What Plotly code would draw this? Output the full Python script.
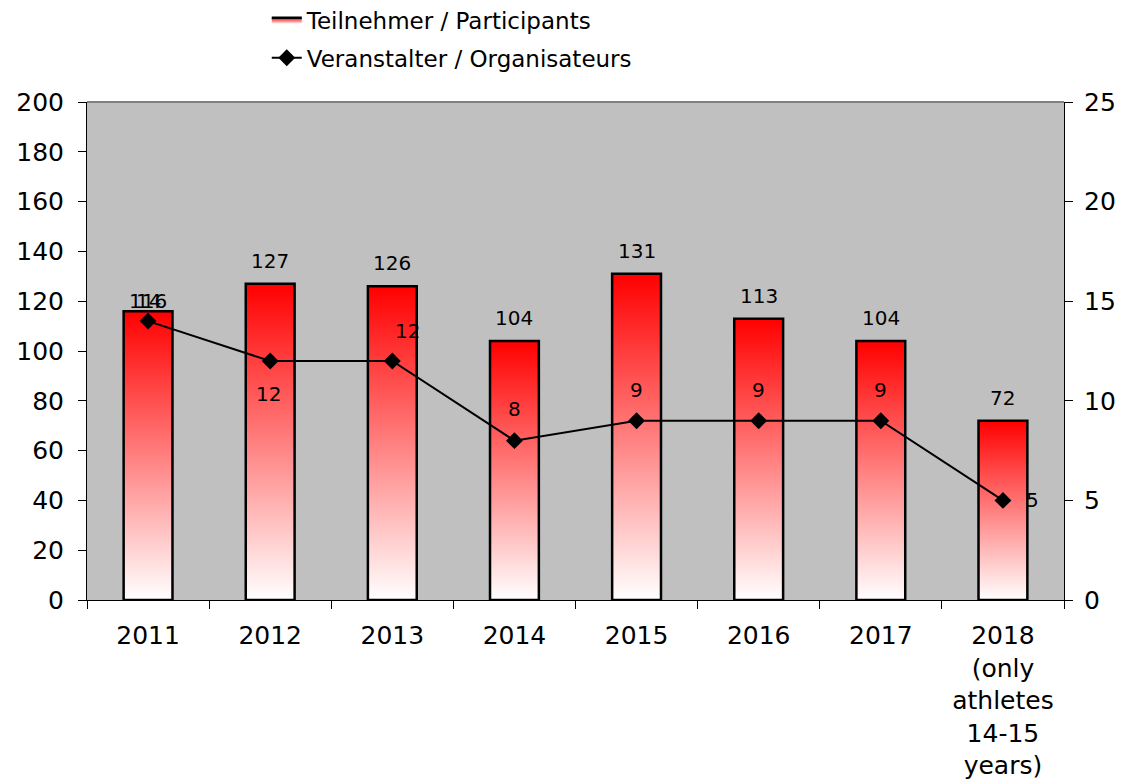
import plotly.graph_objects as go

years = ["2011", "2012", "2013", "2014", "2015", "2016", "2017",
         "2018<br>(only<br>athletes<br>14-15<br>years)"]
participants = [116, 127, 126, 104, 131, 113, 104, 72]
organisers = [14, 12, 12, 8, 9, 9, 9, 5]

# label offsets in pixels (style only)
bar_label_shift = [10, 23, 23, 23, 23, 23, 23, 23]
org_label_shift = [(0, 20), (-2, -33), (15, 30), (0, 32),
                   (0, 31), (0, 31), (0, 31), (30, 0)]

FONT = "DejaVu Sans, Verdana, sans-serif"
half_w = 0.2
xs = list(range(len(years)))

fig = go.Figure()

# gradient filled bars (white at bottom -> red at top)
for i, v in enumerate(participants):
    fig.add_trace(go.Scatter(
        x=[i - half_w, i + half_w, i + half_w, i - half_w, i - half_w],
        y=[0, 0, v, v, 0],
        mode="lines",
        fill="toself",
        fillgradient=dict(type="vertical",
                          colorscale=[[0, "#ffffff"], [1, "#ff0000"]]),
        line=dict(color="black", width=2.5),
        name="Teilnehmer / Participants",
        legendgroup="p",
        showlegend=(i == 0),
        hoverinfo="skip",
    ))

fig.add_trace(go.Scatter(
    x=xs, y=organisers, xaxis="x2", yaxis="y2",
    mode="lines+markers",
    line=dict(color="black", width=2),
    marker=dict(symbol="diamond", size=13, color="black"),
    name="Veranstalter / Organisateurs", legendgroup="o",
    cliponaxis=False,
))

annotations = []
for i, v in enumerate(participants):
    annotations.append(dict(x=i, y=v, xref="x", yref="y", text=str(v),
                            showarrow=False, yshift=bar_label_shift[i],
                            font=dict(size=20, color="black")))
for i, v in enumerate(organisers):
    dx, dy = org_label_shift[i]
    annotations.append(dict(x=i, y=v, xref="x2", yref="y2", text=str(v),
                            showarrow=False, xshift=dx, yshift=dy,
                            font=dict(size=20, color="black")))

rng = [-0.5, len(years) - 0.5]
# page body adds 8px margin, so the figure is a bit smaller and shifted
fig.update_layout(
    width=1125, height=772,
    margin=dict(l=79, r=69, t=94, b=180, autoexpand=False),
    plot_bgcolor="#c0c0c0", paper_bgcolor="white",
    font=dict(family=FONT, size=25, color="black"),
    xaxis=dict(range=rng, tickvals=[k - 0.5 for k in range(len(years) + 1)],
               ticktext=[""] * (len(years) + 1), ticks="outside", ticklen=8,
               tickcolor="black", showgrid=False, zeroline=False,
               showline=True, linecolor="black", linewidth=1, mirror=False),
    xaxis2=dict(range=rng, overlaying="x", side="bottom", tickvals=xs,
                ticktext=years, ticks="", showgrid=False, zeroline=False,
                showline=False, tickfont=dict(size=25),
                ticklabelstandoff=18),
    yaxis=dict(range=[0, 200], dtick=20, ticks="outside", ticklen=8,
               tickcolor="black", showgrid=False, zeroline=False,
               showline=True, linecolor="black", linewidth=1,
               ticklabelstandoff=9),
    yaxis2=dict(range=[0, 25], dtick=5, overlaying="y", side="right",
                ticks="outside", ticklen=8, tickcolor="black",
                showgrid=False, zeroline=False, showline=True,
                linecolor="black", linewidth=1, ticklabelstandoff=6),
    legend=dict(x=0.184, y=1.208, xanchor="left", yanchor="top",
                font=dict(size=23), traceorder="grouped",
                tracegroupgap=5, bgcolor="rgba(0,0,0,0)"),
    annotations=annotations,
    shapes=[dict(type="line", xref="paper", yref="paper", x0=0, x1=1,
                 y0=1, y1=1, line=dict(color="#808080", width=2))],
)

fig.write_html("out.html")
